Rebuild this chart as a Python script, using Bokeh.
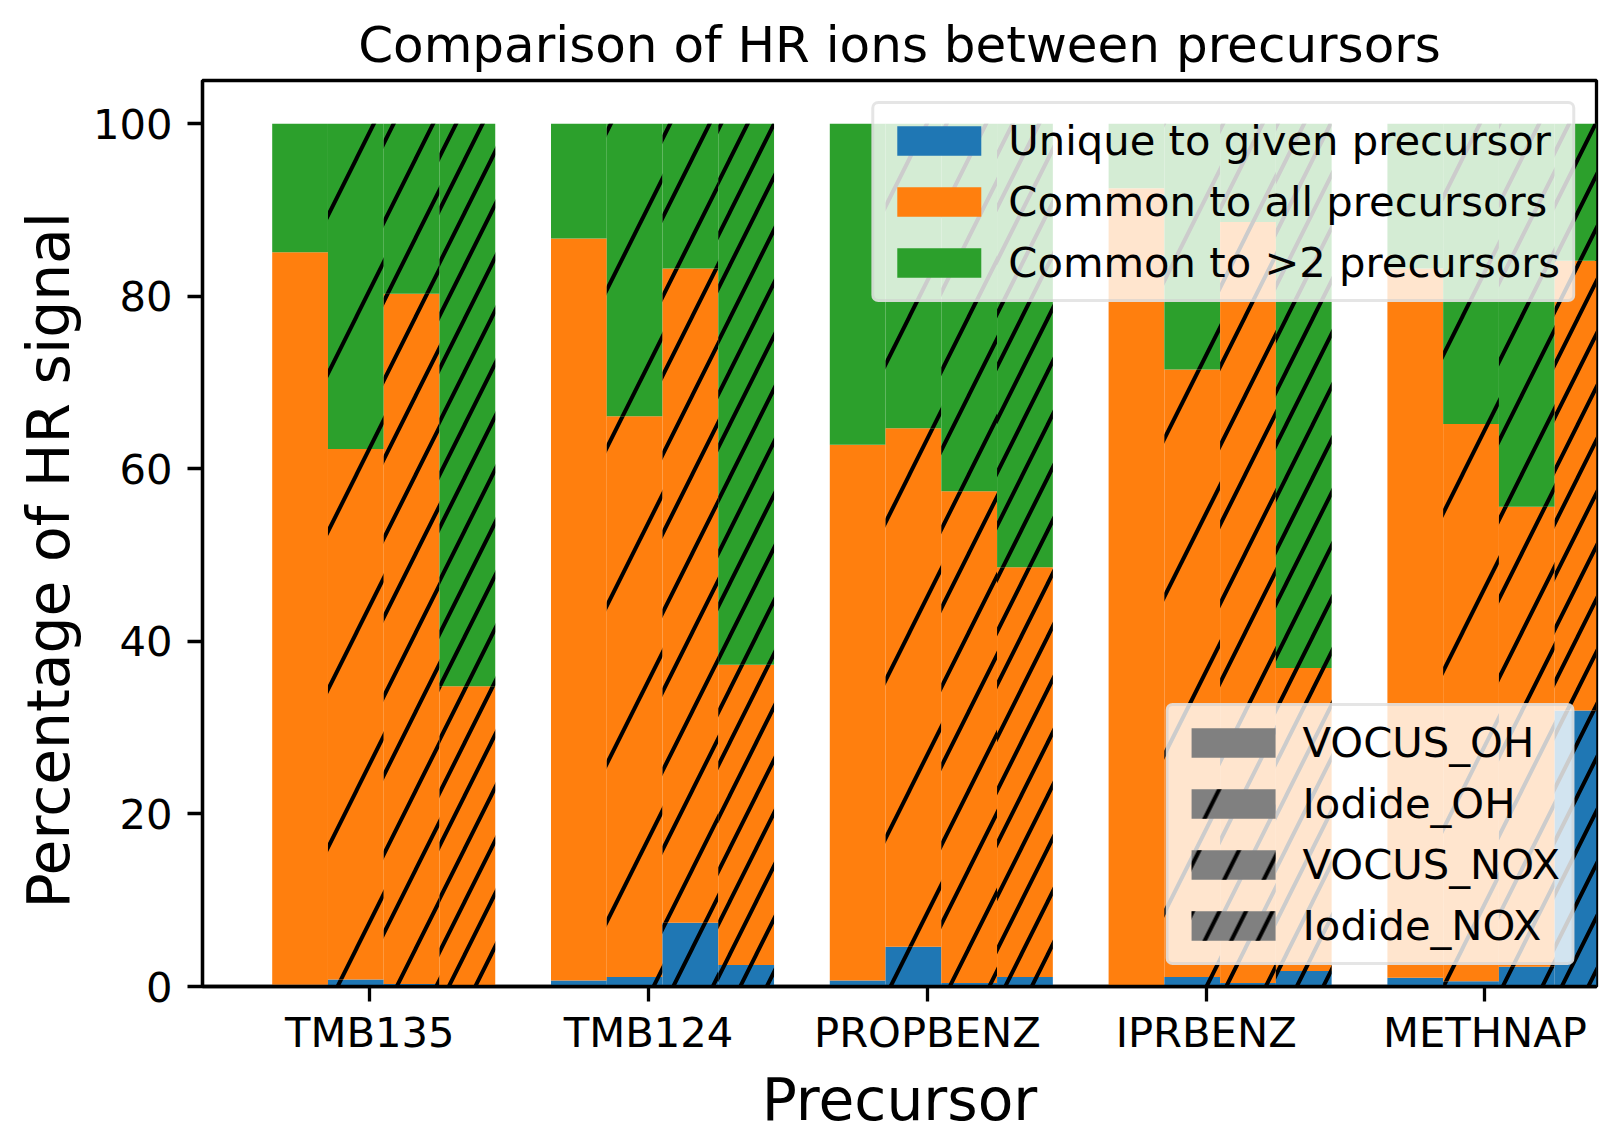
import numpy as np
from bokeh.plotting import figure
from bokeh.models import ColumnDataSource, Legend, LegendItem, FixedTicker, Range1d, Title
from bokeh.embed import file_html
from bokeh.resources import INLINE

precursors = ["TMB135", "TMB124", "PROPBENZ", "IPRBENZ", "METHNAP"]
instruments = ["VOCUS_OH", "Iodide_OH", "VOCUS_NOX", "Iodide_NOX"]
categories = ["Unique to given precursor", "Common to all precursors", "Common to >2 precursors"]

# percentage of HR signal, per instrument, per precursor
unique_vocus_oh = [0.2, 0.7, 0.7, 0.1, 1.0]
unique_iodide_oh = [0.8, 1.1, 4.6, 1.1, 0.6]
unique_vocus_nox = [0.3, 7.4, 0.4, 0.4, 2.3]
unique_iodide_nox = [0.1, 2.5, 1.1, 1.8, 32.0]

common_all_vocus_oh = [84.9, 86.0, 62.1, 92.4, 82.2]
common_all_iodide_oh = [61.5, 65.0, 60.1, 70.4, 64.6]
common_all_vocus_nox = [80.0, 75.8, 57.0, 88.2, 53.3]
common_all_iodide_nox = [34.7, 34.8, 47.5, 35.1, 52.1]

common_gt2_vocus_oh = [14.9, 13.3, 37.2, 7.5, 16.8]
common_gt2_iodide_oh = [37.7, 33.9, 35.3, 28.5, 34.8]
common_gt2_vocus_nox = [19.7, 16.8, 42.6, 11.4, 44.4]
common_gt2_iodide_nox = [65.2, 62.7, 51.4, 63.1, 15.9]

y_ticks = [0, 20, 40, 60, 80, 100]

series = {
    "VOCUS_OH": [unique_vocus_oh, common_all_vocus_oh, common_gt2_vocus_oh],
    "Iodide_OH": [unique_iodide_oh, common_all_iodide_oh, common_gt2_iodide_oh],
    "VOCUS_NOX": [unique_vocus_nox, common_all_vocus_nox, common_gt2_vocus_nox],
    "Iodide_NOX": [unique_iodide_nox, common_all_iodide_nox, common_gt2_iodide_nox],
}

colors = ["#1f77b4", "#ff7f0e", "#2ca02c"]
offsets = [-0.25, -0.05, 0.15, 0.35]
bar_width = 0.2
hatch_scales = [None, 158, 79, 53]   # "/", "//", "///" densities
FONT = "DejaVu Sans"

def hatch_kw(k):
    if hatch_scales[k] is None:
        return {}
    return dict(hatch_pattern="/", hatch_scale=hatch_scales[k],
                hatch_weight=4, hatch_color="black")

x_range = Range1d(-0.6, 4.4)
p = figure(width=1617, height=1136,
           x_range=x_range, y_range=Range1d(0, 105),
           output_backend="svg", toolbar_location=None,
           min_border_left=202, min_border_right=21,
           min_border_top=80, min_border_bottom=150)

p.title.text = "Comparison of HR ions between precursors"
p.title.text_font = FONT
p.title.text_font_size = "50px"
p.title.text_font_style = "normal"
p.title.text_color = "black"
p.title.align = "center"
p.title.standoff = 14

idx = np.arange(len(precursors))
cat_renderers = []
inst_proxies = []
for k, inst in enumerate(instruments):
    vals = np.array(series[inst])
    tops = np.cumsum(vals, axis=0)
    bottoms = tops - vals
    first_src = None
    for c in range(3):
        src = ColumnDataSource(dict(x=idx + offsets[k], top=tops[c], bottom=bottoms[c]))
        if first_src is None:
            first_src = src
        r = p.vbar(x="x", top="top", bottom="bottom", width=bar_width, source=src,
                   fill_color=colors[c], line_color=None, **hatch_kw(k))
        if k == 0:
            cat_renderers.append(r)
    # hidden grey proxy renderer, used only for the instrument legend swatch
    d = p.vbar(x="x", top="top", bottom="bottom", width=bar_width, source=first_src,
               fill_color="#808080", line_color=None, visible=False, **hatch_kw(k))
    inst_proxies.append(d)

# axes
p.xgrid.visible = False
p.ygrid.visible = False
p.outline_line_color = "black"
p.outline_line_width = 3.3
p.outline_line_alpha = 1.0

for ax in (p.xaxis[0], p.yaxis[0]):
    ax.axis_line_width = 3.3
    ax.axis_line_color = "black"
    ax.major_tick_line_width = 3.3
    ax.major_tick_line_color = "black"
    ax.major_tick_in = 0
    ax.major_tick_out = 15
    ax.minor_tick_line_color = None
    ax.major_label_text_font = FONT
    ax.major_label_text_font_size = "41.7px"
    ax.major_label_text_color = "black"

p.xaxis.ticker = FixedTicker(ticks=list(idx))
p.xaxis.major_label_overrides = {int(i): name for i, name in zip(idx, precursors)}
p.xaxis.major_label_standoff = 6
p.xaxis.axis_label = "Precursor"
p.xaxis.axis_label_text_font = FONT
p.xaxis.axis_label_text_font_size = "58.3px"
p.xaxis.axis_label_text_font_style = "normal"
p.xaxis.axis_label_text_color = "black"
p.xaxis.axis_label_standoff = 6

p.yaxis.ticker = FixedTicker(ticks=y_ticks)
p.yaxis.major_label_standoff = 15

ylab = Title(text="Percentage of HR signal", align="left", offset=78,
             text_font=FONT, text_font_size="58.3px", text_font_style="normal",
             text_color="black", standoff=13)
p.add_layout(ylab, "left")

def style_legend(lg):
    lg.label_text_font = FONT
    lg.label_text_font_size = "41.7px"
    lg.label_text_color = "black"
    lg.glyph_width = 105
    lg.glyph_height = 37
    lg.label_standoff = 17
    lg.padding = 12
    lg.spacing = 12
    lg.background_fill_color = "white"
    lg.background_fill_alpha = 0.8
    lg.border_line_color = "#cccccc"
    lg.border_line_width = 3.3
    lg.border_radius = 7
    lg.margin = 21
    lg.inactive_fill_alpha = 0

leg1 = Legend(items=[LegendItem(label=categories[i], renderers=[cat_renderers[i]]) for i in range(3)],
              location="top_right")
style_legend(leg1)
p.add_layout(leg1, "center")

leg2 = Legend(items=[LegendItem(label=instruments[k], renderers=[inst_proxies[k]]) for k in range(4)],
              location="bottom_right")
style_legend(leg2)
p.add_layout(leg2, "center")

open("out.html", "w").write(file_html(p, INLINE))
